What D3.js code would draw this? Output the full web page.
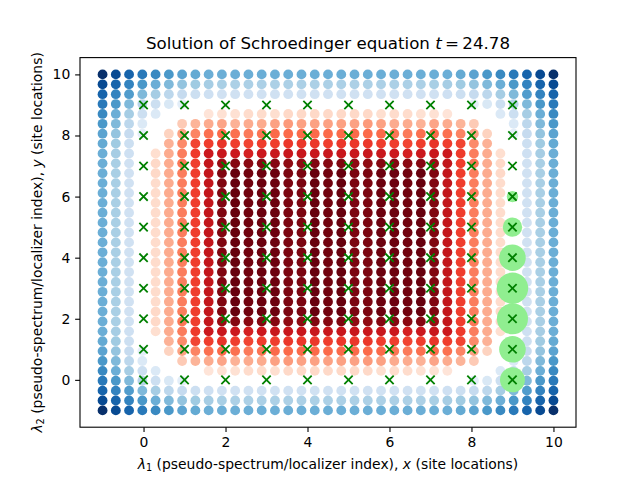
<!DOCTYPE html>
<html>
<head>
<meta charset="utf-8">
<script src="https://cdn.jsdelivr.net/npm/d3@7"></script>
<style>
  html, body { margin: 0; padding: 0; background: #fff; }
  text { font-family: "DejaVu Sans", sans-serif; fill: #000; }
</style>
</head>
<body>
<svg id="chart" width="640" height="480"></svg>
<script>
// site grid of the pseudo-spectrum scan
var lambdaMin = -1, lambdaMax = 10;
var xTicks = [0, 2, 4, 6, 8, 10];
var yTicks = [0, 2, 4, 6, 8, 10];

// row by row from the top, negative = Blues, positive = Reds, 0 = white
var spectrumRows = [
  [-100,-90,-80,-72,-66,-60,-55,-52,-50,-50,-50,-50,-50,-50,-50,-50,-50,-50,-50,-50,-50,-50,-50,-50,-50,-50,-50,-52,-55,-60,-66,-72,-80,-90,-100],
  [-90,-80,-68,-60,-50,-45,-40,-37,-35,-34,-33,-33,-33,-33,-33,-33,-33,-33,-33,-33,-33,-33,-33,-33,-33,-34,-35,-37,-40,-45,-50,-60,-68,-80,-90],
  [-80,-68,-58,-45,-35,-28,-25,-22,-21,-20,-20,-20,-20,-20,-20,-20,-20,-20,-20,-20,-20,-20,-20,-20,-20,-20,-21,-22,-25,-28,-35,-45,-58,-68,-80],
  [-72,-60,-45,-30,-22,-15,-10,0,0,0,0,0,0,0,0,0,0,0,0,0,0,0,0,0,0,0,0,0,-10,-15,-22,-30,-45,-60,-72],
  [-66,-50,-35,-22,-14,0,0,0,10,12,12,14,14,13,15,15,15,15,15,15,15,13,14,14,12,12,10,0,0,0,-14,-22,-35,-50,-66],
  [-60,-45,-28,-14,0,0,20,27,30,32,28,30,30,33,35,33,33,33,33,33,35,33,30,30,28,32,30,27,20,0,0,-14,-28,-45,-60],
  [-55,-40,-25,-10,0,17,33,42,48,50,48,45,47,50,50,50,50,50,50,50,50,50,47,45,48,50,48,42,33,17,0,-10,-25,-40,-55],
  [-52,-37,-22,0,0,28,40,60,62,65,62,60,62,62,64,64,64,62,64,64,64,62,62,60,62,65,62,60,40,28,0,0,-22,-37,-52],
  [-50,-35,-21,0,13,30,44,63,75,76,75,72,75,76,76,76,76,76,76,76,76,76,75,72,75,76,75,63,44,30,13,0,-21,-35,-50],
  [-50,-34,-20,0,15,30,46,62,78,90,94,93,94,94,92,92,95,94,95,92,92,94,94,93,94,90,78,62,46,30,15,0,-20,-34,-50],
  [-50,-34,-20,0,15,30,44,62,78,95,100,98,99,99,96,96,100,98,100,96,96,99,99,98,100,95,78,62,44,30,15,0,-20,-34,-50],
  [-50,-34,-20,0,14,30,44,62,78,95,100,98,99,99,96,96,100,98,100,96,96,99,99,98,100,95,78,62,44,30,14,0,-20,-34,-50],
  [-50,-34,-20,0,14,30,44,62,78,95,100,98,99,99,96,96,100,98,100,96,96,99,99,98,100,95,78,62,44,30,14,0,-20,-34,-50],
  [-50,-34,-20,0,14,30,44,62,78,95,100,98,99,99,96,96,100,98,100,96,96,99,99,98,100,95,78,62,44,30,14,0,-20,-34,-50],
  [-50,-34,-20,0,14,30,44,62,78,95,100,98,99,99,96,96,100,98,100,96,96,99,99,98,100,95,78,62,44,30,14,0,-20,-34,-50],
  [-50,-34,-20,0,14,30,44,62,78,95,100,98,99,99,96,96,100,98,100,96,96,99,99,98,100,95,78,62,44,30,14,0,-20,-34,-50],
  [-50,-34,-20,0,14,30,44,62,78,95,100,98,99,99,96,96,100,98,100,96,96,99,99,98,100,95,78,62,44,30,14,0,-20,-34,-50],
  [-50,-34,-20,0,14,30,44,62,78,95,100,98,99,99,96,96,100,98,100,96,96,99,99,98,100,95,78,62,44,30,14,0,-20,-34,-50],
  [-50,-34,-20,0,14,30,44,62,78,95,100,98,99,99,96,96,100,98,100,96,96,99,99,98,100,95,78,62,44,30,14,0,-20,-34,-50],
  [-50,-34,-20,0,14,30,44,62,78,95,100,98,99,99,96,96,100,98,100,96,96,99,99,98,100,95,78,62,44,30,14,0,-20,-34,-50],
  [-50,-34,-20,0,14,30,44,62,78,95,100,98,99,99,96,96,100,98,100,96,96,99,99,98,100,95,78,62,44,30,14,0,-20,-34,-50],
  [-50,-34,-20,0,14,30,44,62,78,95,100,98,99,99,96,96,100,98,100,96,96,99,99,98,100,95,78,62,44,30,14,0,-20,-34,-50],
  [-50,-34,-20,0,14,30,44,62,78,95,100,98,99,99,96,96,100,98,100,96,96,99,99,98,100,95,78,62,44,30,14,0,-20,-34,-50],
  [-50,-34,-20,0,14,30,44,62,78,95,100,98,99,99,96,96,100,98,100,96,96,99,99,98,100,95,78,62,44,30,14,0,-20,-34,-50],
  [-50,-34,-20,0,15,30,44,62,78,95,100,98,99,99,96,96,100,98,100,96,96,99,99,98,100,95,78,62,44,30,15,0,-20,-34,-50],
  [-50,-34,-20,0,15,30,46,62,78,90,94,93,94,94,92,92,95,94,95,92,92,94,94,93,94,90,78,62,46,30,15,0,-20,-34,-50],
  [-50,-35,-21,0,13,30,44,63,75,76,75,72,75,76,76,76,76,76,76,76,76,76,75,72,75,76,75,63,44,30,13,0,-21,-35,-50],
  [-52,-37,-22,0,0,28,40,60,62,65,62,60,62,62,64,64,64,62,64,64,64,62,62,60,62,65,62,60,40,28,0,0,-22,-37,-52],
  [-55,-40,-25,-10,0,17,33,42,48,50,48,45,47,50,50,50,50,50,50,50,50,50,47,45,48,50,48,42,33,17,0,-10,-25,-40,-55],
  [-60,-45,-28,-14,0,0,20,27,30,32,28,30,30,33,35,33,33,33,33,33,35,33,30,30,28,32,30,27,20,0,0,-14,-28,-45,-60],
  [-66,-50,-35,-22,-14,0,0,0,10,12,12,14,14,13,15,15,15,15,15,15,15,13,14,14,12,12,10,0,0,0,-14,-22,-35,-50,-66],
  [-72,-60,-45,-30,-22,-15,-10,0,0,0,0,0,0,0,0,0,0,0,0,0,0,0,0,0,0,0,0,0,-10,-15,-22,-30,-45,-60,-72],
  [-80,-68,-58,-45,-35,-28,-25,-22,-21,-20,-20,-20,-20,-20,-20,-20,-20,-20,-20,-20,-20,-20,-20,-20,-20,-20,-21,-22,-25,-28,-35,-45,-58,-68,-80],
  [-90,-80,-68,-60,-50,-45,-40,-37,-35,-34,-33,-33,-33,-33,-33,-33,-33,-33,-33,-33,-33,-33,-33,-33,-33,-34,-35,-37,-40,-45,-50,-60,-68,-80,-90],
  [-100,-90,-80,-72,-66,-60,-55,-52,-50,-50,-50,-50,-50,-50,-50,-50,-50,-50,-50,-50,-50,-50,-50,-50,-50,-50,-50,-52,-55,-60,-66,-72,-80,-90,-100]
];

// lattice sites (the x markers)
var siteCoords = [0, 1, 2, 3, 4, 5, 6, 7, 8, 9];

// wave function weight on the sites of column x = 9
var waveX = 9;
var waveY = [0, 1, 2, 3, 4, 5, 6];
var waveWeight = [0.122, 0.138, 0.188, 0.193, 0.138, 0.0735, 0.0254];

var bluesRamp = ['#f7fbff', '#deebf7', '#c6dbef', '#9ecae1', '#6baed6', '#4292c6', '#2171b5', '#08519c', '#08306b'];
var redsRamp = ['#fff5f0', '#fee0d2', '#fcbba1', '#fc9272', '#fb6a4a', '#ef3b2c', '#cb181d', '#a50f15', '#67000d'];

var width = 640, height = 480;
var margin = { top: 57.6, right: 64, bottom: 52.8, left: 80 };

var svg = d3.select('#chart');

var pad = (lambdaMax - lambdaMin) * 0.05;
var x = d3.scaleLinear().domain([lambdaMin - pad, lambdaMax + pad]).range([margin.left, width - margin.right]);
var y = d3.scaleLinear().domain([lambdaMin - pad, lambdaMax + pad]).range([height - margin.bottom, margin.top]);
var radius = d3.scaleSqrt().domain([0, 0.2]).range([0, 16]);

var blues = d3.piecewise(d3.interpolateRgb, bluesRamp);
var reds = d3.piecewise(d3.interpolateRgb, redsRamp);

var nCols = spectrumRows[0].length;
var nRows = spectrumRows.length;
var colValue = d3.scaleLinear().domain([0, nCols - 1]).range([lambdaMin, lambdaMax]);
var rowValue = d3.scaleLinear().domain([0, nRows - 1]).range([lambdaMax, lambdaMin]);

// flatten the rows, white ones are not drawn
var dots = [];
spectrumRows.forEach(function(row, r) {
    row.forEach(function(v, c) {
        if (v !== 0) dots.push({ lx: colValue(c), ly: rowValue(r), v: v });
    });
});

svg.append('g').selectAll('circle')
    .data(dots)
    .enter().append('circle')
    .attr('cx', function(d) { return x(d.lx); })
    .attr('cy', function(d) { return y(d.ly); })
    .attr('r', 4.9)
    .style('fill', function(d) {
        return d.v < 0 ? blues(-d.v / 100) : reds(d.v / 100);
    });

svg.append('g').selectAll('circle')
    .data(waveY)
    .enter().append('circle')
    .attr('cx', x(waveX))
    .attr('cy', function(d) { return y(d); })
    .attr('r', function(d, i) { return radius(waveWeight[i]); })
    .style('fill', 'lightgreen');

var sites = d3.cross(siteCoords, siteCoords);
var cross = d3.symbol().type(d3.symbolX).size(47);

svg.append('g').selectAll('path')
    .data(sites)
    .enter().append('path')
    .attr('d', cross)
    .attr('transform', function(d) { return 'translate(' + x(d[0]) + ',' + y(d[1]) + ')'; })
    .style('fill', 'none')
    .style('stroke', 'green')
    .style('stroke-width', 1.8);

// axes
var xAxis = d3.axisBottom(x).tickValues(xTicks).tickFormat(d3.format('d')).tickSize(4.86).tickPadding(4.86);
var yAxis = d3.axisLeft(y).tickValues(yTicks).tickFormat(d3.format('d')).tickSize(4.86).tickPadding(4.86);

var gx = svg.append('g').attr('transform', 'translate(0,' + (height - margin.bottom) + ')').call(xAxis);
var gy = svg.append('g').attr('transform', 'translate(' + margin.left + ',0)').call(yAxis);

[gx, gy].forEach(function(g) {
    g.select('.domain').remove();
    g.selectAll('line').style('stroke', '#000').style('stroke-width', 1.1);
    g.selectAll('text').style('font-size', '13.9px').style('font-family', '"DejaVu Sans"');
});

// spines
svg.append('rect')
    .attr('x', margin.left)
    .attr('y', margin.top)
    .attr('width', width - margin.left - margin.right)
    .attr('height', height - margin.top - margin.bottom)
    .style('fill', 'none')
    .style('stroke', '#000')
    .style('stroke-width', 1.1);

// text with a bit of math in it
function mathText(sel, parts) {
    parts.forEach(function(p) {
        var t = sel.append('tspan').text(p.text);
        if (p.italic) t.style('font-style', 'italic');
        if (p.sub) t.attr('dy', 2.2).style('font-size', '9.7px');
        if (p.afterSub) t.attr('dy', -2.2);
    });
    return sel;
}

mathText(svg.append('text')
    .attr('x', (margin.left + width - margin.right) / 2)
    .attr('y', 49)
    .attr('text-anchor', 'middle')
    .style('font-size', '16.67px'), [
        { text: 'Solution of Schroedinger equation ' },
        { text: 't', italic: true },
        { text: '\u2009=\u200924.78' }
    ]);

mathText(svg.append('text')
    .attr('x', (margin.left + width - margin.right) / 2)
    .attr('y', 469)
    .attr('text-anchor', 'middle')
    .style('font-size', '13.9px'), [
        { text: '\u03bb', italic: true },
        { text: '1', sub: true },
        { text: ' (pseudo-spectrum/localizer index), ', afterSub: true },
        { text: 'x', italic: true },
        { text: ' (site locations)' }
    ]);

mathText(svg.append('text')
    .attr('transform', 'translate(41.5,' + ((margin.top + height - margin.bottom) / 2) + ') rotate(-90)')
    .attr('text-anchor', 'middle')
    .style('font-size', '13.9px'), [
        { text: '\u03bb', italic: true },
        { text: '2', sub: true },
        { text: ' (pseudo-spectrum/localizer index), ', afterSub: true },
        { text: 'y', italic: true },
        { text: ' (site locations)' }
    ]);
</script>
</body>
</html>
